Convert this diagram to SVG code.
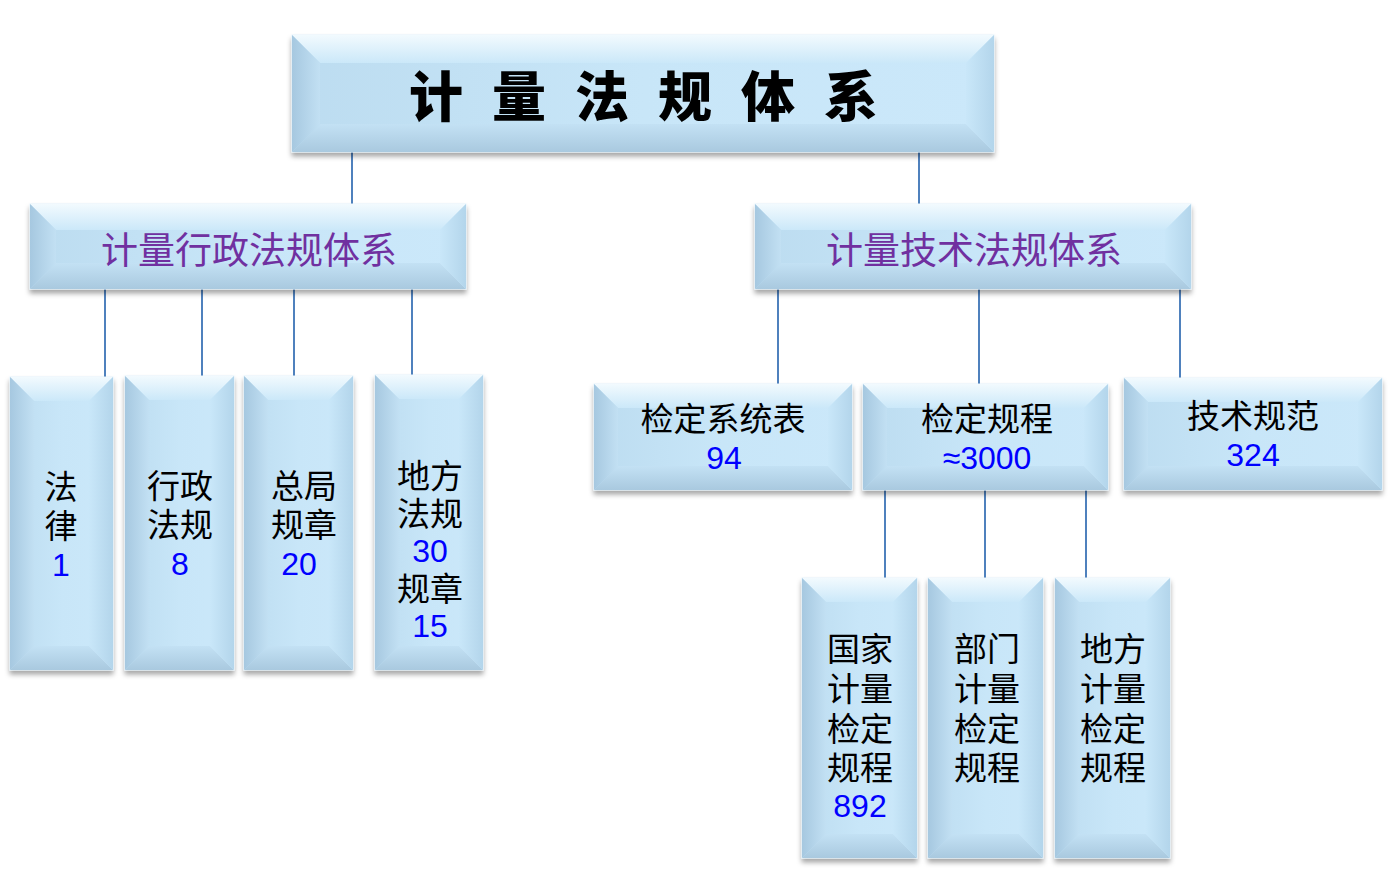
<svg xmlns="http://www.w3.org/2000/svg" width="1392" height="873" viewBox="0 0 1392 873">
<defs>
<linearGradient id="gFace" x1="0" y1="0" x2="1" y2="0"><stop offset="0" stop-color="#bcdcf0"/><stop offset="0.5" stop-color="#c8e6f8"/><stop offset="1" stop-color="#cbe8fa"/></linearGradient>
<linearGradient id="gTop" x1="0" y1="0" x2="0" y2="1"><stop offset="0" stop-color="#f2fafe"/><stop offset="1" stop-color="#cbe8f9"/></linearGradient>
<linearGradient id="gBot" x1="0" y1="0" x2="0" y2="1"><stop offset="0" stop-color="#c3e1f4"/><stop offset="1" stop-color="#a9c9df"/></linearGradient>
<linearGradient id="gLeft" x1="0" y1="0" x2="1" y2="0"><stop offset="0" stop-color="#a6c8e0"/><stop offset="1" stop-color="#c2e0f3"/></linearGradient>
<linearGradient id="gRight" x1="0" y1="0" x2="1" y2="0"><stop offset="0" stop-color="#c9e7f9"/><stop offset="1" stop-color="#b3d5eb"/></linearGradient>
<filter id="sh" x="-10%" y="-10%" width="120%" height="130%"><feDropShadow dx="0" dy="4" stdDeviation="2.5" flood-color="#000" flood-opacity="0.35"/></filter>
</defs>
<style>
.face{fill:url(#gFace);stroke:#e4f2fb;stroke-width:1}
.t{fill:url(#gTop)}
.b{fill:url(#gBot)}
.l{fill:url(#gLeft)}
.r{fill:url(#gRight)}
.con line{stroke:#4f81bd;stroke-width:2}
.title{font-family:"Noto Sans CJK SC","Noto Sans CJK JP",sans-serif;font-weight:900;font-size:54px;fill:#000;text-anchor:middle;dominant-baseline:central}
.sub{font-family:"Noto Sans CJK SC",sans-serif;font-size:37px;fill:#7030a0;text-anchor:middle;dominant-baseline:central}
.txt{font-family:"Noto Sans CJK SC",sans-serif;font-size:33px;fill:#000;text-anchor:middle;dominant-baseline:central}
.num{font-family:"Liberation Sans","Noto Sans CJK SC",sans-serif;font-size:32px;fill:#0000ff}
</style>
<rect width="1392" height="873" fill="#fff"/>
<g id="connectors" class="con">
<line x1="352" y1="152" x2="352" y2="204"/>
<line x1="919" y1="152" x2="919" y2="204"/>
<line x1="105" y1="289" x2="105" y2="377"/>
<line x1="202" y1="289" x2="202" y2="376"/>
<line x1="294" y1="289" x2="294" y2="376"/>
<line x1="412" y1="289" x2="412" y2="375"/>
<line x1="778" y1="289" x2="778" y2="384"/>
<line x1="979" y1="289" x2="979" y2="384"/>
<line x1="1180" y1="289" x2="1180" y2="378"/>
<line x1="885" y1="490" x2="885" y2="578"/>
<line x1="985" y1="490" x2="985" y2="578"/>
<line x1="1086" y1="490" x2="1086" y2="578"/>
</g>
<g id="n-title">
<rect class="face" x="292" y="35" width="702" height="117" filter="url(#sh)"/>
<polygon class="t" points="292,35 994,35 966,63 320,63"/>
<polygon class="b" points="292,152 994,152 966,124 320,124"/>
<polygon class="l" points="292,35 320,63 320,124 292,152"/>
<polygon class="r" points="994,35 966,63 966,124 994,152"/>
<text class="title" x="436 519 602 685 768 851" y="93">计量法规体系</text>
</g>
<g id="n-admin">
<rect class="face" x="30" y="204" width="436" height="85" filter="url(#sh)"/>
<polygon class="t" points="30,204 466,204 440,230 56,230"/>
<polygon class="b" points="30,289 466,289 440,263 56,263"/>
<polygon class="l" points="30,204 56,230 56,263 30,289"/>
<polygon class="r" points="466,204 440,230 440,263 466,289"/>
<text class="sub" x="249" y="248">计量行政法规体系</text>
</g>
<g id="n-tech">
<rect class="face" x="755" y="204" width="436" height="85" filter="url(#sh)"/>
<polygon class="t" points="755,204 1191,204 1165,230 781,230"/>
<polygon class="b" points="755,289 1191,289 1165,263 781,263"/>
<polygon class="l" points="755,204 781,230 781,263 755,289"/>
<polygon class="r" points="1191,204 1165,230 1165,263 1191,289"/>
<text class="sub" x="974" y="248">计量技术法规体系</text>
</g>
<g id="n-law">
<rect class="face" x="10" y="377" width="103" height="293" filter="url(#sh)"/>
<polygon class="t" points="10,377 113,377 89,401 34,401"/>
<polygon class="b" points="10,670 113,670 89,646 34,646"/>
<polygon class="l" points="10,377 34,401 34,646 10,670"/>
<polygon class="r" points="113,377 89,401 89,646 113,670"/>
<text class="txt"><tspan x="61" y="485">法</tspan><tspan x="61" y="524">律</tspan><tspan class="num" x="61" y="565">1</tspan></text>
</g>
<g id="n-reg">
<rect class="face" x="125" y="376" width="109" height="294" filter="url(#sh)"/>
<polygon class="t" points="125,376 234,376 210,400 149,400"/>
<polygon class="b" points="125,670 234,670 210,646 149,646"/>
<polygon class="l" points="125,376 149,400 149,646 125,670"/>
<polygon class="r" points="234,376 210,400 210,646 234,670"/>
<text class="txt"><tspan x="180" y="484">行政</tspan><tspan x="180" y="523">法规</tspan><tspan class="num" x="180" y="564">8</tspan></text>
</g>
<g id="n-bureau">
<rect class="face" x="244" y="376" width="109" height="294" filter="url(#sh)"/>
<polygon class="t" points="244,376 353,376 329,400 268,400"/>
<polygon class="b" points="244,670 353,670 329,646 268,646"/>
<polygon class="l" points="244,376 268,400 268,646 244,670"/>
<polygon class="r" points="353,376 329,400 329,646 353,670"/>
<text class="txt"><tspan x="304" y="484">总局</tspan><tspan x="304" y="523">规章</tspan><tspan class="num" x="299" y="564">20</tspan></text>
</g>
<g id="n-local">
<rect class="face" x="375" y="375" width="108" height="295" filter="url(#sh)"/>
<polygon class="t" points="375,375 483,375 459,399 399,399"/>
<polygon class="b" points="375,670 483,670 459,646 399,646"/>
<polygon class="l" points="375,375 399,399 399,646 375,670"/>
<polygon class="r" points="483,375 459,399 459,646 483,670"/>
<text class="txt"><tspan x="430" y="474">地方</tspan><tspan x="430" y="512">法规</tspan><tspan class="num" x="430" y="551">30</tspan><tspan x="430" y="587">规章</tspan><tspan class="num" x="430" y="626">15</tspan></text>
</g>
<g id="n-scheme">
<rect class="face" x="594" y="384" width="258" height="106" filter="url(#sh)"/>
<polygon class="t" points="594,384 852,384 828,408 618,408"/>
<polygon class="b" points="594,490 852,490 828,466 618,466"/>
<polygon class="l" points="594,384 618,408 618,466 594,490"/>
<polygon class="r" points="852,384 828,408 828,466 852,490"/>
<text class="txt"><tspan x="723" y="417">检定系统表</tspan><tspan class="num" x="724" y="458">94</tspan></text>
</g>
<g id="n-proc">
<rect class="face" x="863" y="384" width="245" height="106" filter="url(#sh)"/>
<polygon class="t" points="863,384 1108,384 1084,408 887,408"/>
<polygon class="b" points="863,490 1108,490 1084,466 887,466"/>
<polygon class="l" points="863,384 887,408 887,466 863,490"/>
<polygon class="r" points="1108,384 1084,408 1084,466 1108,490"/>
<text class="txt"><tspan x="987" y="417">检定规程</tspan><tspan class="num" x="987" y="458">≈3000</tspan></text>
</g>
<g id="n-spec">
<rect class="face" x="1124" y="378" width="258" height="112" filter="url(#sh)"/>
<polygon class="t" points="1124,378 1382,378 1358,402 1148,402"/>
<polygon class="b" points="1124,490 1382,490 1358,466 1148,466"/>
<polygon class="l" points="1124,378 1148,402 1148,466 1124,490"/>
<polygon class="r" points="1382,378 1358,402 1358,466 1382,490"/>
<text class="txt"><tspan x="1253" y="414">技术规范</tspan><tspan class="num" x="1253" y="455">324</tspan></text>
</g>
<g id="n-national">
<rect class="face" x="802" y="578" width="115" height="280" filter="url(#sh)"/>
<polygon class="t" points="802,578 917,578 893,602 826,602"/>
<polygon class="b" points="802,858 917,858 893,834 826,834"/>
<polygon class="l" points="802,578 826,602 826,834 802,858"/>
<polygon class="r" points="917,578 893,602 893,834 917,858"/>
<text class="txt"><tspan x="860" y="647">国家</tspan><tspan x="860" y="687">计量</tspan><tspan x="860" y="727">检定</tspan><tspan x="860" y="766">规程</tspan><tspan class="num" x="860" y="806">892</tspan></text>
</g>
<g id="n-dept">
<rect class="face" x="928" y="578" width="115" height="280" filter="url(#sh)"/>
<polygon class="t" points="928,578 1043,578 1019,602 952,602"/>
<polygon class="b" points="928,858 1043,858 1019,834 952,834"/>
<polygon class="l" points="928,578 952,602 952,834 928,858"/>
<polygon class="r" points="1043,578 1019,602 1019,834 1043,858"/>
<text class="txt"><tspan x="987" y="647">部门</tspan><tspan x="987" y="687">计量</tspan><tspan x="987" y="727">检定</tspan><tspan x="987" y="766">规程</tspan></text>
</g>
<g id="n-localproc">
<rect class="face" x="1055" y="578" width="115" height="280" filter="url(#sh)"/>
<polygon class="t" points="1055,578 1170,578 1146,602 1079,602"/>
<polygon class="b" points="1055,858 1170,858 1146,834 1079,834"/>
<polygon class="l" points="1055,578 1079,602 1079,834 1055,858"/>
<polygon class="r" points="1170,578 1146,602 1146,834 1170,858"/>
<text class="txt"><tspan x="1113" y="647">地方</tspan><tspan x="1113" y="687">计量</tspan><tspan x="1113" y="727">检定</tspan><tspan x="1113" y="766">规程</tspan></text>
</g>
</svg>
